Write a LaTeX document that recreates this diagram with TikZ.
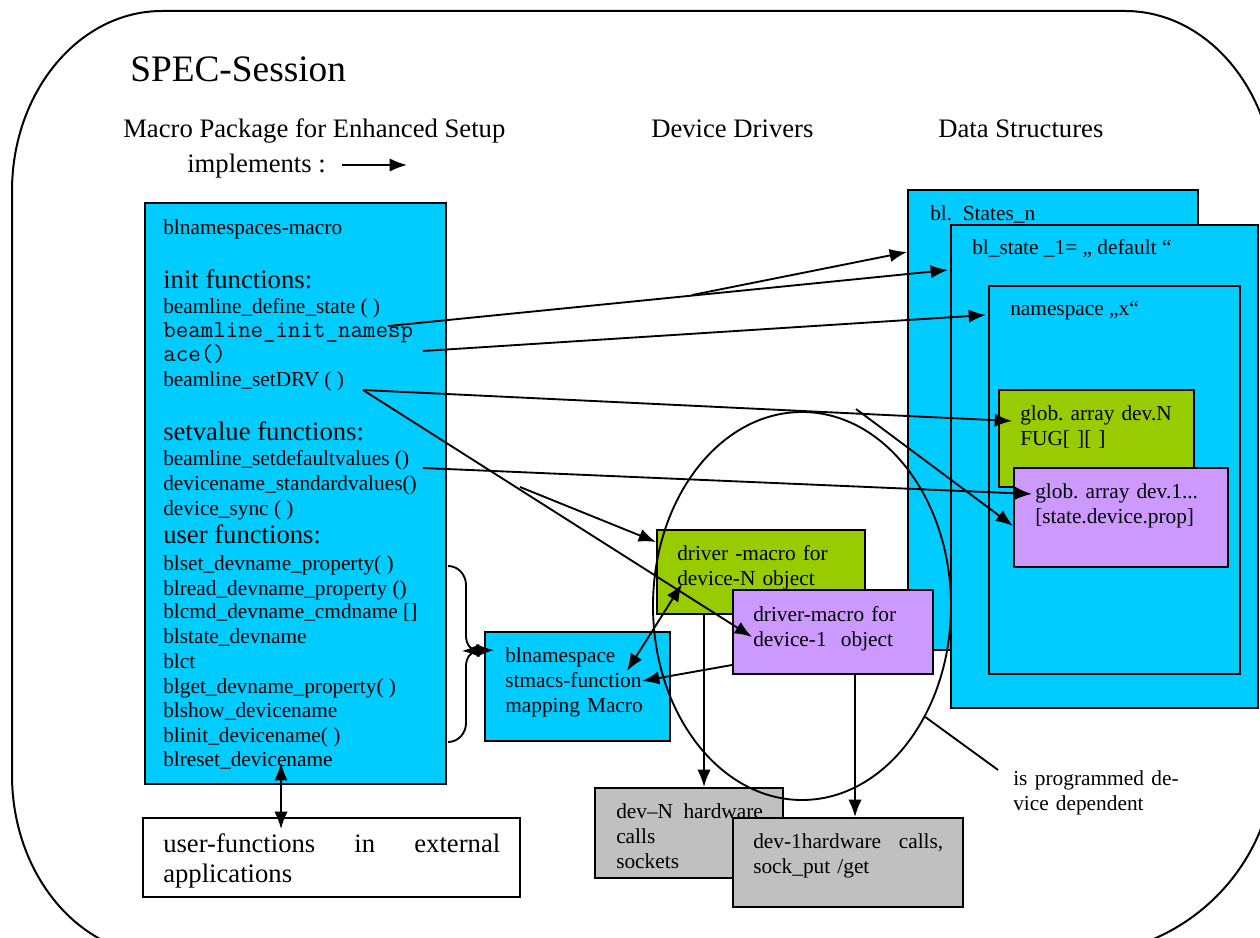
\documentclass[tikz,border=0pt]{standalone}
\usepackage{fontspec}
\setmainfont{Liberation Serif}
\usepackage{xcolor}
\usepackage{tikz}
\usetikzlibrary{shapes,arrows.meta,fit}
\definecolor{dscyan}{HTML}{00CCFF}
\definecolor{dsgreen}{HTML}{99CC00}
\definecolor{dspurple}{HTML}{CC99FF}
\definecolor{dsgray}{HTML}{C0C0C0}
\frenchspacing
\tikzstyle{box} = [rectangle, draw, line width=1.5pt, inner sep=0pt]
\tikzstyle{txt} = [anchor=base west, inner sep=0pt, align=left, font=\fontsize{16}{18.75}\selectfont]
\tikzstyle{head} = [anchor=base west, inner sep=0pt, font=\fontsize{20}{24}\selectfont]
\tikzstyle{mono} = [anchor=base west, inner sep=0pt, font=\ttfamily\fontsize{18.2}{20}\selectfont]
\tikzstyle{conn} = [draw, line width=1.4pt]
\tikzstyle{line} = [draw, line width=1.4pt, -{Latex[length=13pt,width=10pt]}]
\tikzstyle{dline} = [draw, line width=1.4pt, {Latex[length=13pt,width=10pt]}-{Latex[length=13pt,width=10pt]}]

\begin{document}
\begin{tikzpicture}[x=0.75pt,y=-0.75pt]
\useasboundingbox (0,0) rectangle (1260,938);
\clip (0,0) rectangle (1260,938);

% session frame
\draw[line width=1.5pt] (12,191) arc[start angle=180,end angle=270,x radius=150,y radius=180]
  -- (1125,11) arc[start angle=270,end angle=360,x radius=150,y radius=180]
  -- (1275,755) arc[start angle=0,end angle=90,radius=200]
  -- (162,955) arc[start angle=90,end angle=180,x radius=150,y radius=180] -- cycle;

% headings
\node [anchor=base west, inner sep=0pt, font=\fontsize{28}{32}\selectfont] (title) at (130,82) {SPEC-Session};
\node [head] (hmacro) at (123,138) {Macro Package for Enhanced Setup};
\node [head] (impl) at (187,173) {implements :};
\node [head] (hdrv) at (651,138) {Device Drivers};
\node [head] (hdata) at (938,138) {Data Structures};
\coordinate (implBase) at (342,165);
\coordinate (implTip) at (407,165);
\path [line] (implBase) -- (implTip);

% data structures
\node [box, fill=dscyan, fit={(908,190) (1198,650)}] (stN) {};
\node [txt] (stNT) at (930,220) {bl.\ \ States\_n};
\node [box, fill=dscyan, fit={(951,225) (1258,708)}] (st1) {};
\node [txt] (st1T) at (972,254) {bl\_state \_1= „ default “};
\node [box, fill=dscyan, fit={(989,286) (1240,674)}] (ns) {};
\node [txt] (nsT) at (1010,315) {namespace „x“};
\node [box, fill=dsgreen, fit={(999,390) (1194,487)}] (gN) {};
\node [txt, text width=140pt] (gNT) at (1020,420) {glob. array dev.N\\FUG[ ][ ]};
\node [box, fill=dspurple, fit={(1014,468) (1228,567)}] (g1) {};
\node [txt, text width=150pt] (g1T) at (1035,498) {glob. array dev.1...\\{}[state.device.prop]};

% macro package
\node [box, fill=dscyan, fit={(145,203) (446,784)}] (macro) {};
\node [txt] (m1) at (163,234) {blnamespaces-macro};
\node [head] (m2) at (163,288) {init functions:};
\node [txt] (m3) at (163,313) {beamline\_define\_state ( )};
\node [mono] (m4) at (163,337) {beamline\_init\_namesp};
\node [mono] (m5) at (163,361) {ace()};
\node [txt] (m6) at (163,386) {beamline\_setDRV ( )};
\node [head] (m7) at (163,440) {setvalue functions:};
\node [txt] (m8) at (163,465) {beamline\_setdefaultvalues ()};
\node [txt] (m9) at (163,490) {devicename\_standardvalues()};
\node [txt] (m10) at (163,515) {device\_sync ( )};
\node [head] (m11) at (163,543) {user functions:};
\node [txt] (m12) at (163,570) {blset\_devname\_property( )};
\node [txt] (m13) at (163,595) {blread\_devname\_property ()};
\node [txt] (m14) at (163,618) {blcmd\_devname\_cmdname []};
\node [txt] (m15) at (163,643) {blstate\_devname};
\node [txt] (m16) at (163,668) {blct};
\node [txt] (m17) at (163,693) {blget\_devname\_property( )};
\node [txt] (m18) at (163,717) {blshow\_devicename};
\node [txt] (m19) at (163,742) {blinit\_devicename( )};
\node [txt] (m20) at (163,766) {blreset\_devicename};

\node [box, fill=white, fit={(143,818) (520,897)}] (user) {};
\node [txt, text width=252.75pt, font=\fontsize{20}{22.5}\selectfont] (userT) at (163,852) {user-functions\hfill in\hfill external\\applications};

% drivers
\node [box, fill=dscyan, fit={(485,632) (670,741)}] (stm) {};
\node [txt, text width=130pt] (stmT) at (505,662) {blnamespace\\stmacs-function\\mapping Macro};
\node [box, fill=dsgreen, fit={(657,530) (865,614)}] (drvN) {};
\node [txt, text width=140pt] (drvNT) at (677,560) {driver -macro for\\device-N object};
\node [box, fill=dspurple, fit={(733,590) (933,674)}] (drv1) {};
\node [txt, text width=140pt] (drv1T) at (753,621) {driver-macro for\\device-1\ \ object};
\node [box, fill=dsgray, fit={(595,788) (783,878)}] (hwN) {};
\node [txt, text width=110pt] (hwNT) at (616,818) {dev–N\hfill hardware\\calls\\sockets};
\node [box, fill=dsgray, fit={(733,818) (963,907)}] (hw1) {};
\node [txt, text width=142.5pt] (hw1T) at (753,848) {dev-1hardware\hfill calls,\\sock\_put /get};

\node [draw, ellipse, line width=1.4pt, inner sep=0pt, minimum width=223.5pt, minimum height=291pt] (zone) at (802,606) {};
\node [txt, text width=124pt] (prog) at (1013,785) {is\hfill programmed\hfill de-\\vice dependent};
\path [conn] (zone.-42) -- ([shift={(-15,0)}]prog.north west);

% brace to mapping macro
\path [conn] ([shift={(1,364)}]macro.north east) to[out=0,in=90] (466,585) -- (466,636) to[out=-90,in=180] (478,651);
\path [conn] ([shift={(1,-43)}]macro.south east) to[out=0,in=-90] (466,723) -- (466,666) to[out=90,in=180] (478,651);
\coordinate (braceTip) at (462,651);
\path [dline] (braceTip) -- ([shift={(10,19)}]stm.north west);

% calls
\coordinate (defS) at (388,326);
\coordinate (defB) at (692,295);
\coordinate (initS) at (423,351);
\coordinate (drvS) at (363,390);
\coordinate (defvS) at (423,468);
\coordinate (syncS) at (520,487);
\coordinate (nsS) at (856,409);
\path [line] (defS) -- ([shift={(-2,46)}]st1.north west);
\path [line] (defB) -- ([shift={(0,63)}]stN.north west);
\path [line] (initS) -- ([shift={(-2,30)}]ns.north west);
\path [line] (drvS) -- ([shift={(14,32)}]gN.north west);
\path [line] (drvS) -- ([shift={(20,48)}]drv1.north west);
\path [line] (defvS) -- ([shift={(19,27)}]g1.north west);
\path [line] (syncS) -- ([shift={(0,13)}]drvN.north west);
\path [line] (nsS) -- ([shift={(0,59)}]g1.north west);
\path [dline] ([shift={(26,-31)}]drvN.south west) -- ([shift={(143,40)}]stm.north west);
\path [line] ([shift={(0,-10)}]drv1.south west) -- ([shift={(158,50)}]stm.north west);
\path [line] ([shift={(48,0)}]drvN.south west) -- ([shift={(110,0)}]hwN.north west);
\path [line] ([shift={(123,0)}]drv1.south west) -- ([shift={(123,0)}]hw1.north west);
\path [dline] ([shift={(-14.5,-22)}]macro.south) -- ([shift={(-50.5,12)}]user.north);
\end{tikzpicture}
\end{document}
